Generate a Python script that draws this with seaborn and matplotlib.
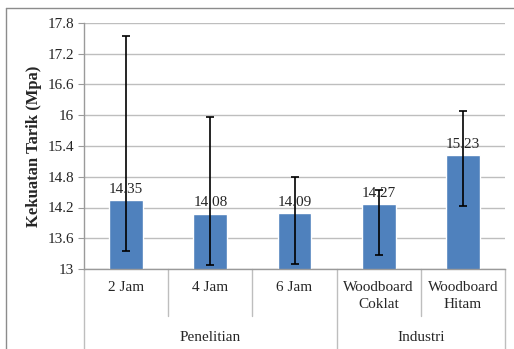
import matplotlib
matplotlib.use("Agg")
import matplotlib.pyplot as plt
import matplotlib.lines as mlines
import numpy as np
import pandas as pd
import seaborn as sns

categories = ["2 Jam", "4 Jam", "6 Jam", "Woodboard\nCoklat", "Woodboard\nHitam"]
groups = ["Penelitian", "Penelitian", "Penelitian", "Industri", "Industri"]
values = [14.35, 14.08, 14.09, 14.27, 15.23]
err_low = [1.0, 1.0, 1.0, 1.0, 1.0]
err_high = [3.2, 1.89, 0.71, 0.27, 0.85]
value_labels = ["14.35", "14.08", "14.09", "14.27", "15.23"]
yticks = [13, 13.6, 14.2, 14.8, 15.4, 16, 16.6, 17.2, 17.8]
ytick_labels = ["13", "13.6", "14.2", "14.8", "15.4", "16", "16.6", "17.2", "17.8"]


def main():
    df = pd.DataFrame({"kategori": categories, "nilai": values, "grup": groups})

    sns.set_style("white")
    plt.rcParams["font.family"] = ["Liberation Serif", "DejaVu Serif"]

    fig = plt.figure(figsize=(5.14, 3.49), dpi=100)
    ax = fig.add_axes([84 / 514, 80 / 349, 421 / 514, 246 / 349])

    sns.barplot(data=df, x="kategori", y="nilai", color="#4F81BD",
                saturation=1, width=0.4, ax=ax, zorder=2)
    ax.errorbar(np.arange(len(values)), values, yerr=[err_low, err_high],
                fmt="none", ecolor="black", elinewidth=1.2, capsize=3,
                capthick=1.2, zorder=3)

    for i, (v, lab) in enumerate(zip(values, value_labels)):
        ax.annotate(lab, (i, v), xytext=(0, 3), textcoords="offset points",
                    ha="center", va="bottom", fontsize=11, zorder=4)

    ax.set_ylim(13, 17.8)
    ax.set_xlim(-0.5, len(values) - 0.5)
    ax.set_yticks(yticks)
    ax.set_yticklabels(ytick_labels, fontsize=11)
    ax.set_ylabel("Kekuatan Tarik (Mpa)", fontsize=12, fontweight="bold",
                  labelpad=4)
    ax.set_xlabel("")
    ax.set_xticks([])
    ax.yaxis.grid(True, color="#BEBEBE", linewidth=1, zorder=0)
    ax.set_axisbelow(True)
    for s in ["top", "right"]:
        ax.spines[s].set_visible(False)
    for s in ["left", "bottom"]:
        ax.spines[s].set_color("#9A9A9A")
        ax.spines[s].set_linewidth(1)
    ax.tick_params(axis="y", left=True, length=4, color="#9A9A9A", pad=3)

    # multi-level category axis
    trans = ax.get_xaxis_transform()
    short_y, long_y = -0.191, -0.33
    for b in np.arange(-0.5, len(values)):
        idx = int(b + 0.5)
        is_group_edge = idx == 0 or idx == len(values) or groups[idx] != groups[idx - 1]
        ax.plot([b, b], [0, long_y if is_group_edge else short_y],
                color="#BEBEBE", linewidth=1, transform=trans, clip_on=False)
    for i, cat in enumerate(categories):
        ax.text(i, -0.05, cat, transform=trans, ha="center", va="top",
                fontsize=11, linespacing=1.4)
    seen = []
    for g in groups:
        if g in seen:
            continue
        seen.append(g)
        idx = [i for i, gg in enumerate(groups) if gg == g]
        ax.text(np.mean(idx), -0.28, g, transform=trans, ha="center",
                va="center", fontsize=11)

    # chart frame (left and top edges only visible)
    fx, fy = 5.5 / 514, 1 - 7.5 / 349
    fig.lines.append(mlines.Line2D([fx, fx], [0, fy], transform=fig.transFigure,
                                   color="#8C8C8C", linewidth=1))
    fig.lines.append(mlines.Line2D([fx, 1], [fy, fy], transform=fig.transFigure,
                                   color="#8C8C8C", linewidth=1))

    fig.savefig("out.png", dpi=100)


if __name__ == "__main__":
    main()
